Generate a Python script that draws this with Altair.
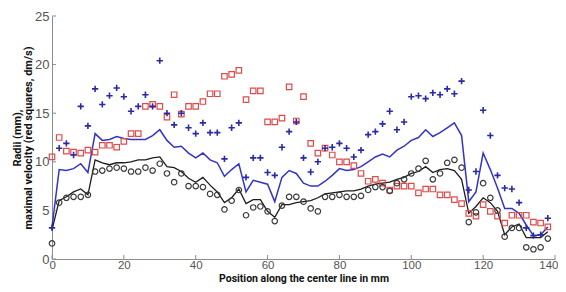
import altair as alt
import pandas as pd

positions = list(range(0, 140, 2))

blue_line = [3.3, 9.2, 9.1, 9.3, 9.8, 8.9, 12.9, 12.2, 12.3, 12.6, 12.4, 12.3, 12.3, 12.3, 12.7, 13.3,
             12.2, 11.5, 11.6, 10.9, 10.4, 10.9, 10.2, 9.9, 8.5, 9.2, 9.8, 6.9, 8.1, 7.9, 7.7, 5.9,
             8.4, 9.1, 8.8, 7.8, 7.5, 7.5, 8.0, 8.6, 9.3, 9.1, 9.2, 9.5, 10.0, 10.5, 10.8, 10.5,
             11.2, 11.6, 12.2, 12.5, 13.3, 12.6, 13.0, 13.5, 14.0, 12.7, 5.9, 6.9, 10.9, 9.2, 7.3,
             5.2, 5.2, 4.7, 3.5, 2.4, 2.5, 3.3]

black_line = [3.0, 6.0, 6.4, 6.9, 7.2, 6.6, 10.2, 9.9, 9.7, 9.9, 9.9, 10.0, 10.2, 10.2, 10.4, 10.5,
              9.5, 9.4, 9.0, 8.3, 7.9, 8.4, 7.6, 6.9, 5.8, 6.3, 7.2, 5.7, 6.1, 6.1, 4.9, 4.3,
              5.6, 5.6, 5.8, 5.9, 6.0, 6.3, 6.7, 6.8, 6.9, 7.0, 7.0, 7.2, 7.5, 7.7, 7.8, 7.9,
              8.2, 8.4, 8.8, 9.0, 9.5, 8.9, 9.2, 9.3, 9.1, 8.2, 4.7, 5.4, 6.3, 5.8, 4.9,
              2.5, 3.3, 3.6, 2.2, 2.2, 2.2, 2.8]

blue_plus = [3.2, 11.4, 11.9, 10.7, 15.7, 13.7, 17.5, 15.9, 16.8, 17.6, 16.7, 15.2, 15.7, 16.9, 15.7, 20.4,
             15.0, 13.8, 15.0, 13.5, 12.9, 14.0, 13.0, 13.0, 10.3, 13.5, 14.0, 8.4, 10.4, 10.4, 8.9, 8.6,
             11.5, 13.1, 14.1, 10.4, 8.95, 10.0, 11.4, 11.5, 11.9, 11.4, 10.5, 11.2, 12.8, 13.1, 13.9, 15.2,
             13.3, 14.1, 16.7, 16.8, 16.5, 17.1, 16.9, 17.5, 17.0, 18.3, 7.1, 9.0, 15.3, 12.7, 8.6,
             7.3, 7.2, 5.8, 3.2, 2.4, 2.5, 4.2]

red_squares = [10.5, 12.5, 11.1, 11.0, 10.9, 11.2, 11.0, 11.7, 11.7, 11.5, 12.1, 12.9, 12.9, 15.7, 15.9, 15.7,
               14.6, 16.9, 14.9, 15.7, 15.7, 16.2, 17.0, 17.0, 18.8, 19.0, 19.4, 16.4, 17.3, 17.3, 14.1, 14.1,
               14.5, 17.7, 14.2, 16.7, 11.9, 10.9, 11.4, 10.7, 10.0, 10.0, 9.6, 8.8, 8.0, 8.2, 7.8, 7.1,
               7.5, 7.5, 7.5, 6.8, 7.2, 7.2, 6.6, 6.6, 6.1, 5.7, 4.7, 4.4, 5.6, 4.9, 4.4,
               3.7, 4.5, 4.5, 4.5, 3.8, 3.7, 3.3]

black_circles = [1.6, 5.8, 6.3, 6.4, 6.4, 6.6, 9.0, 9.1, 9.3, 9.4, 9.3, 9.0, 9.0, 9.4, 9.1, 9.8,
                 8.8, 7.9, 8.8, 7.5, 7.5, 7.4, 6.7, 6.6, 5.1, 6.0, 7.1, 4.5, 5.3, 5.4, 4.9, 3.9,
                 5.5, 6.4, 6.4, 5.9, 5.2, 4.9, 6.4, 6.4, 6.6, 6.4, 6.4, 6.5, 7.1, 7.4, 7.4, 7.0,
                 7.8, 8.2, 8.8, 9.3, 10.1, 8.2, 8.8, 9.9, 10.2, 9.4, 3.8, 4.8, 7.8, 6.3, 5.0,
                 2.3, 3.2, 3.2, 1.2, 1.0, 1.2, 2.1]

x_ticks = [0, 20, 40, 60, 80, 100, 120, 140]
y_ticks = [0, 5, 10, 15, 20, 25]

df = pd.DataFrame({
    "pos": positions,
    "blue_line": blue_line,
    "black_line": black_line,
    "blue_plus": blue_plus,
    "red_sq": red_squares,
    "circ": black_circles,
})

W, H = 503, 243
LABEL_FONT = "Liberation Sans"
TITLE_FONT = "Roboto"

xscale = alt.Scale(domain=[0, 140], nice=False, zero=False)
yscale = alt.Scale(domain=[0, 25], nice=False, zero=False)

xaxis = alt.Axis(values=x_ticks, tickSize=0, grid=False, domainColor="#8c8c8c",
                 labelColor="#555555", labelFont=LABEL_FONT, labelFontSize=11.5, labelPadding=0,
                 labelFlush=True, labelFlushOffset=3, labelOverlap=False,
                 title="Position along the center line in mm", titleFont=TITLE_FONT,
                 titleFontSize=10.5, titleFontWeight="bold", titleColor="#111111", titlePadding=0,
                 titleBaseline="alphabetic", titleY=22)
yaxis = alt.Axis(values=y_ticks, tickSize=0, grid=False, domainColor="#8c8c8c",
                 labelColor="#555555", labelFont=LABEL_FONT, labelFontSize=13, labelPadding=3,
                 labelFlush=False,
                 title=["Radii (mm),", "maximal velocity (red squares, dm/s)"], titleFont=TITLE_FONT,
                 titleFontSize=11, titleFontWeight="bold", titleColor="#111111", titlePadding=1,
                 titleLineHeight=11)

base = alt.Chart(df)

x_enc = alt.X("pos:Q", scale=xscale, axis=xaxis)

blue = base.mark_line(color="#3434c4", strokeWidth=1.5).encode(
    x=x_enc, y=alt.Y("blue_line:Q", scale=yscale, axis=yaxis))
black = base.mark_line(color="#1c1c1c", strokeWidth=1.3).encode(
    x="pos:Q", y="black_line:Q")
plus = base.mark_point(shape="M-1,0H1M0,-1V1", size=40, filled=False, stroke="#2a2aa6",
                       strokeWidth=1.6, opacity=1).encode(x="pos:Q", y="blue_plus:Q")
squares = base.mark_point(shape="square", size=30, filled=False, stroke="#e04a4a",
                          strokeWidth=1.2, opacity=1).encode(x="pos:Q", y="red_sq:Q")
circles = base.mark_point(shape="circle", size=30, filled=False, stroke="#3a3a3a",
                          strokeWidth=1.2, opacity=1).encode(x="pos:Q", y="circ:Q")

xt = alt.Chart(pd.DataFrame({"t": x_ticks})).mark_rule(color="#8c8c8c").encode(
    x="t:Q", y=alt.value(H), y2=alt.value(H - 4))
yt = alt.Chart(pd.DataFrame({"t": y_ticks})).mark_rule(color="#8c8c8c").encode(
    y="t:Q", x=alt.value(0), x2=alt.value(4))

chart = alt.layer(blue, black, squares, plus, circles, xt, yt).properties(
    width=W, height=H,
    autosize=alt.AutoSizeParams(type="none"),
    padding={"left": 44, "top": 8, "right": 3, "bottom": 25},
).configure_view(stroke=None)

chart.save("out.html", embed_options={"renderer": "svg", "actions": False})
